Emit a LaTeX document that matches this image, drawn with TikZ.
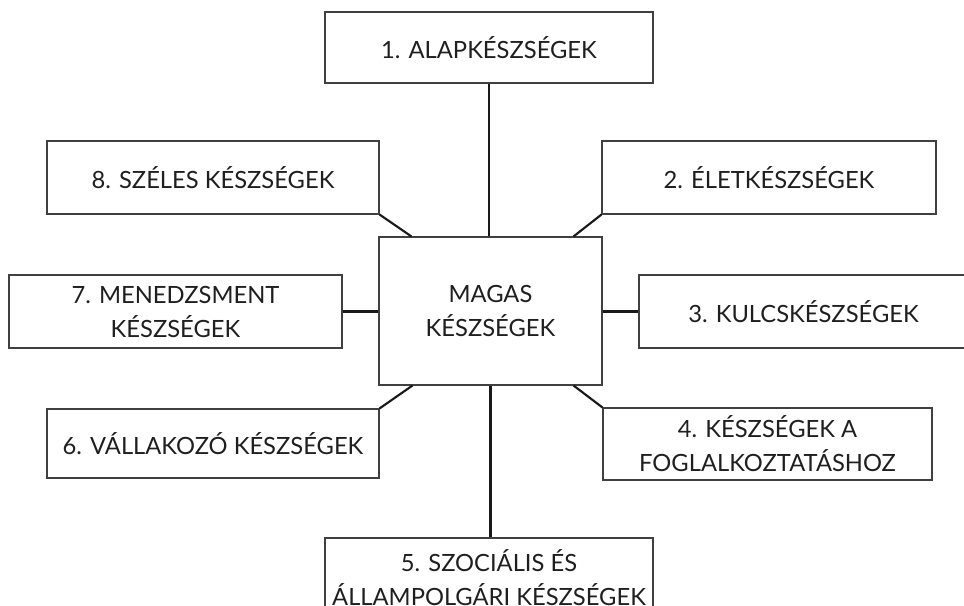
\documentclass[tikz,border=0pt]{standalone}
\usepackage{fontspec}
\setmainfont{Lato}
\usetikzlibrary{calc}
\begin{document}
\begin{tikzpicture}[x=0.75pt,y=-0.75pt,
  box/.style={draw=black!75, line width=0.8pt, fill=white, inner sep=0pt,
    align=center, text=black!88, font=\fontsize{17.8}{25.5}\selectfont},
  link/.style={draw=black!90, line width=1.6pt}]
\useasboundingbox (0,0) rectangle (964,606);
% center
\node[box, minimum width=167.25pt, minimum height=111pt] (c) at (490.5,311) {MAGAS\\KÉSZSÉGEK};
% surrounding boxes
\node[box, minimum width=246pt, minimum height=53.25pt] (b1) at (489,47.5) {1. ALAPKÉSZSÉGEK};
\node[box, minimum width=250.5pt, minimum height=54.75pt] (b2) at (769,177.5) {2. ÉLETKÉSZSÉGEK};
\node[box, minimum width=246.75pt, minimum height=54.75pt] (b3) at (803.5,311.5) {3. KULCSKÉSZSÉGEK};
\node[box, minimum width=246.75pt, minimum height=54pt] (b4) at (767.5,444) {4. KÉSZSÉGEK A\\FOGLALKOZTATÁSHOZ};
\node[box, minimum width=246pt, minimum height=60pt] (b5) at (489,578) {5. SZOCIÁLIS ÉS\\ÁLLAMPOLGÁRI KÉSZSÉGEK};
\node[box, minimum width=249pt, minimum height=51.75pt] (b6) at (213,443.5) {6. VÁLLAKOZÓ KÉSZSÉGEK};
\node[box, minimum width=249.75pt, minimum height=54.75pt] (b7) at (175.5,311.5) {7. MENEDZSMENT\\KÉSZSÉGEK};
\node[box, minimum width=249pt, minimum height=54.75pt] (b8) at (213,177.5) {8. SZÉLES KÉSZSÉGEK};
% connectors
\coordinate (c8) at ($(c.north west)+(33,0)$);
\coordinate (c2) at ($(c.north east)+(-29,0)$);
\coordinate (c6) at ($(c.south west)+(34,0)$);
\coordinate (c4) at ($(c.south east)+(-29,0)$);
\draw[link] (b1.south) -- (b1.south |- c.north);
\draw[link] (c.south) -- (c.south |- b5.north);
\draw[link] (b7.east) -- (b7.east -| c.west);
\draw[link] (c.east |- b3.west) -- (b3.west);
\draw[link] (b8.south east) -- (c8);
\draw[link] (b2.south west) -- (c2);
\draw[link] (b6.north east) -- (c6);
\draw[link] (b4.north west) -- (c4);
\end{tikzpicture}
\end{document}
